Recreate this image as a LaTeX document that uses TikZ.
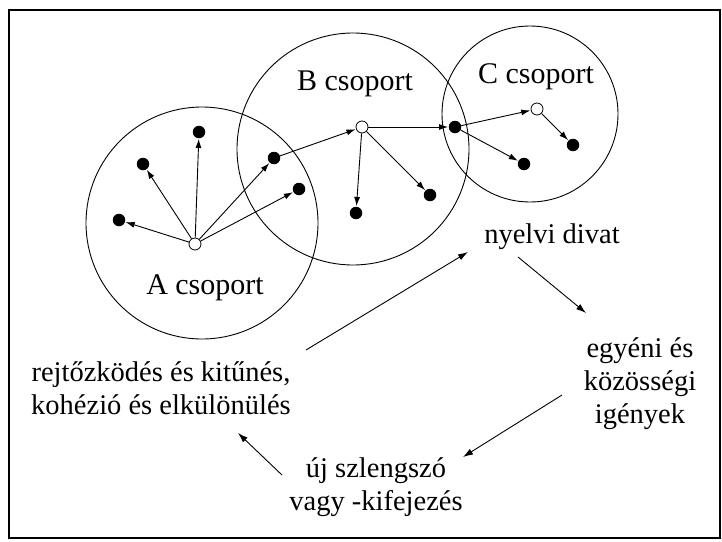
\documentclass[tikz,border=0pt]{standalone}
\usepackage{fontspec}
\setmainfont{Liberation Serif}
\usetikzlibrary{arrows.meta}
\begin{document}
\begin{tikzpicture}[x=1pt,y=-1pt,
  grp/.style={draw, line width=0.9pt},
  dot/.style={circle, fill=black, inner sep=0pt, minimum size=12.5pt},
  hub/.style={circle, draw, fill=white, line width=0.8pt, inner sep=0pt, minimum size=12pt},
  link/.style={line width=0.9pt, -{Latex[length=9pt,width=6pt]}, shorten >=0.5pt},
  cyc/.style={line width=0.9pt, -{Latex[length=10pt,width=6.5pt]}},
  glabel/.style={font=\fontsize{30}{34}\selectfont, anchor=base, inner sep=0pt},
  clabel/.style={font=\fontsize{28.5}{33}\selectfont, align=center, inner sep=0pt},
]
\useasboundingbox (0,0) rectangle (722,541);
\draw[line width=1.6pt] (9,10) rectangle (720,538);

% the three groups
\draw[grp] (202,223) circle[radius=116pt];
\draw[grp] (353,149) circle[radius=116pt];
\draw[grp] (530,114) circle[radius=88pt];

% members of group A
\node[hub] (a0) at (195,244) {};
\node[dot] (a1) at (199,132) {};
\node[dot] (a2) at (143,164) {};
\node[dot] (a3) at (119,220) {};
\node[dot] (a4) at (274,158) {};
\node[dot] (a5) at (299,189) {};
% members of group B
\node[hub] (b0) at (362,127) {};
\node[dot] (b1) at (356,213) {};
\node[dot] (b2) at (430,195) {};
% members of group C
\node[dot] (c1) at (455,127) {};
\node[hub] (c0) at (537,109) {};
\node[dot] (c2) at (573,145) {};
\node[dot] (c3) at (524,164) {};

\foreach \t in {a1,a2,a3,a4,a5} \draw[link] (a0) -- (\t);
\draw[link] (a4) -- (b0);
\foreach \t in {b1,b2,c1} \draw[link] (b0) -- (\t);
\draw[link] (c1) -- (c0);
\draw[link] (c1) -- (c3);
\draw[link] (c0) -- (c2);

% group names
\node[glabel] (alab) at (205,294) {A csoport};
\node[glabel] (blab) at (355,90) {B csoport};
\node[glabel] (clab) at (536,83) {C csoport};

% the cycle
\node[clabel, anchor=base] (divat) at (552,243) {nyelvi divat};
\node[clabel] (igeny) at (640,384) {egyéni és\\közösségi\\igények};
\node[clabel] (rejt) at (161,388) {rejtőzködés és kitűnés,\\kohézió és elkülönülés};
\node[clabel] (szo) at (376,487) {új szlengszó\\vagy -kifejezés};

\coordinate (r1) at (306,350); \coordinate (d1) at (468,252);
\coordinate (d2) at (518,257); \coordinate (i2) at (586,313);
\coordinate (i3) at (562,395); \coordinate (s3) at (463,457);
\coordinate (s4) at (282,475); \coordinate (r4) at (238,433);
\draw[cyc] (r1) -- (d1);
\draw[cyc] (d2) -- (i2);
\draw[cyc] (i3) -- (s3);
\draw[cyc] (s4) -- (r4);
\end{tikzpicture}
\end{document}
